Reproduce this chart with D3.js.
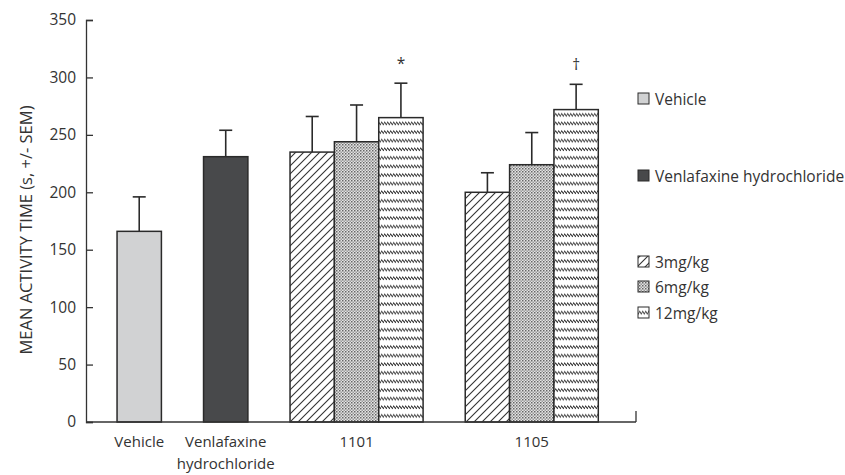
<!DOCTYPE html>
<html><head><meta charset="utf-8">
<script src="https://cdn.jsdelivr.net/npm/d3@7"></script>
<style>body{margin:0;background:#fff}svg{display:block}text{font-family:"Open Sans",sans-serif;fill:#333}</style>
</head><body><svg id="c" width="845" height="475"></svg>
<script>
// ---- data ----
const groups = ["Vehicle", "Venlafaxine hydrochloride", "1101", "1105"];
const groupLabelLines = [["Vehicle"], ["Venlafaxine", "hydrochloride"], ["1101"], ["1105"]];
const vehicleMean = [166];
const vehicleSEM = [30];
const venlafaxineMean = [231];
const venlafaxineSEM = [23];
const doses = ["3mg/kg", "6mg/kg", "12mg/kg"];
const mean1101 = [235, 244, 265];
const sem1101 = [31, 32, 30];
const mean1105 = [200, 224, 272];
const sem1105 = [17, 28, 22];
const marks1101 = ["", "", "*"];
const marks1105 = ["", "", "\u2020"];
const yTicks = [0, 50, 100, 150, 200, 250, 300, 350];
const legendItems = ["Vehicle", "Venlafaxine hydrochloride", "3mg/kg", "6mg/kg", "12mg/kg"];

(function () {
// ---- build bars ----
const bars = [];
bars.push({g: 0, i: 0, v: vehicleMean[0], e: vehicleSEM[0], fill: "vehicle", mark: ""});
bars.push({g: 1, i: 0, v: venlafaxineMean[0], e: venlafaxineSEM[0], fill: "venla", mark: ""});
mean1101.forEach((v, i) => bars.push({g: 2, i, v, e: sem1101[i], fill: "p" + i, mark: marks1101[i]}));
mean1105.forEach((v, i) => bars.push({g: 3, i, v, e: sem1105[i], fill: "p" + i, mark: marks1105[i]}));

const groupSize = groups.map((_, g) => bars.filter(b => b.g === g).length);
const gapUnit = 0.95, leadUnit = 0.7;
const groupStart = [];
let acc = leadUnit;
groupSize.forEach((n, g) => { groupStart.push(acc); acc += n + gapUnit; });

const svg = d3.select("#c");
const mLeft = 86, mRight = 636, mTop = 20, mBottom = 422;
const x = d3.scaleLinear().domain([0, 12.4]).range([mLeft, mRight]);
const y = d3.scaleLinear().domain([0, 350]).range([mBottom, mTop]);
const FS = 15.5;

// patterns
const defs = svg.append("defs");
const p0 = defs.append("pattern").attr("id", "p0").attr("patternUnits", "userSpaceOnUse").attr("width", 8).attr("height", 8);
p0.append("rect").attr("width", 8).attr("height", 8).attr("fill", "#fff");
p0.append("path").attr("d", "M-1,9 L9,-1 M-3,3 L3,-3 M5,11 L11,5").attr("stroke", "#333").attr("stroke-width", 1.1);
const p1 = defs.append("pattern").attr("id", "p1").attr("patternUnits", "userSpaceOnUse").attr("width", 3).attr("height", 3);
p1.append("rect").attr("width", 3).attr("height", 3).attr("fill", "#e4e4e4");
p1.append("rect").attr("width", 1.5).attr("height", 1.5).attr("fill", "#666");
p1.append("rect").attr("x", 1.5).attr("y", 1.5).attr("width", 1.5).attr("height", 1.5).attr("fill", "#9a9a9a");
const p2 = defs.append("pattern").attr("id", "p2").attr("patternUnits", "userSpaceOnUse").attr("width", 3).attr("height", 8.6);
p2.append("rect").attr("width", 3).attr("height", 8.6).attr("fill", "#fff");
p2.append("path").attr("d", "M0,1.5 L3,4.5").attr("stroke", "#333").attr("stroke-width", 1.2);
const fills = {vehicle: "#d1d2d3", venla: "#48494b", p0: "url(#p0)", p1: "url(#p1)", p2: "url(#p2)"};

const bx = b => x(groupStart[b.g] + b.i);
const bw = x(1) - x(0);

// error bars
const eb = svg.append("g");
bars.forEach(b => {
  const cx = bx(b) + bw / 2;
  eb.append("line").attr("x1", cx).attr("x2", cx).attr("y1", y(b.v)).attr("y2", y(b.v + b.e)).attr("stroke", "#2a2a2a").attr("stroke-width", 1.6);
  eb.append("line").attr("x1", cx - 6.5).attr("x2", cx + 6.5).attr("y1", y(b.v + b.e)).attr("y2", y(b.v + b.e)).attr("stroke", "#2a2a2a").attr("stroke-width", 1.6);
  if (b.mark) svg.append("text").attr("x", cx).attr("y", y(b.v + b.e) - 14).attr("text-anchor", "middle").attr("font-size", FS).attr("fill", "#333").text(b.mark);
});

// bars
svg.append("g").selectAll("rect").data(bars).join("rect")
  .attr("x", bx).attr("width", bw)
  .attr("y", d => y(d.v)).attr("height", d => y(0) - y(d.v))
  .attr("fill", d => fills[d.fill]).attr("stroke", "#2a2a2a").attr("stroke-width", 1.5);

// y axis
const yAxis = svg.append("g").attr("transform", `translate(${mLeft},0)`)
  .call(d3.axisLeft(y).tickValues(yTicks).tickSize(-7).tickPadding(10));
yAxis.select(".domain").attr("stroke", "#333").attr("stroke-width", 1.3);
yAxis.selectAll(".tick line").attr("stroke", "#333").attr("stroke-width", 1.3).attr("x1", 0).attr("x2", 7);
yAxis.selectAll("text").attr("font-size", FS).attr("font-family", "Open Sans").attr("fill", "#333").attr("x", -10);

// x axis
svg.append("line").attr("x1", mLeft).attr("x2", mRight).attr("y1", mBottom).attr("y2", mBottom).attr("stroke", "#333").attr("stroke-width", 1.3);
svg.append("line").attr("x1", mRight).attr("x2", mRight).attr("y1", mBottom).attr("y2", mBottom - 11).attr("stroke", "#333").attr("stroke-width", 1.3);
groups.forEach((g, gi) => {
  const cx = (x(groupStart[gi]) + x(groupStart[gi] + groupSize[gi])) / 2;
  groupLabelLines[gi].forEach((l, k) =>
    svg.append("text").attr("x", cx).attr("y", 447 + k * 22).attr("text-anchor", "middle").attr("font-size", 15).text(l));
});

// y title
svg.append("text").attr("transform", `translate(32,230) rotate(-90)`)
  .attr("text-anchor", "middle").attr("font-size", 16.5).text("MEAN ACTIVITY TIME (s, +/- SEM)");

// legend
const legY = [99, 176, 262, 287, 313];
const legFill = ["vehicle", "venla", "p0", "p1", "p2"];
legendItems.forEach((l, i) => {
  svg.append("rect").attr("x", 638).attr("y", legY[i] - 6).attr("width", 11).attr("height", 11)
    .attr("fill", fills[legFill[i]]).attr("stroke", "#2a2a2a").attr("stroke-width", 1);
  svg.append("text").attr("x", 655).attr("y", legY[i] + 5.5).attr("font-size", FS).text(l);
});
})();
</script></body></html>
